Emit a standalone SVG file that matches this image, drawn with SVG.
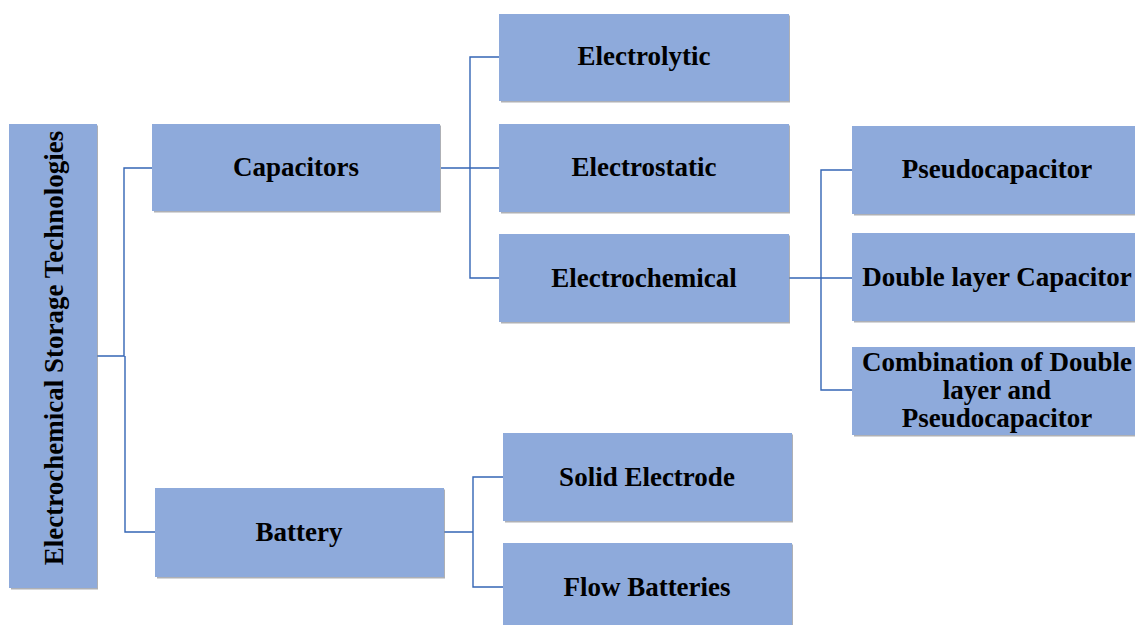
<svg xmlns="http://www.w3.org/2000/svg" width="1135" height="625" viewBox="0 0 1135 625">
<defs>
<style>
.box{fill:#8EAADB;}
.sh{fill:#8c8f96;opacity:0.7;}
.t{font-family:"Liberation Serif","Times New Roman",serif;font-weight:bold;font-size:27px;fill:#000;text-anchor:middle;}
.c{fill:none;stroke:#3465B5;stroke-width:1.4;}
</style>
</defs>
<rect width="1135" height="625" fill="#fff"/>
<g id="connectors">
<path class="c" d="M152,168 H124 V356 H97 M125,356 V532 H155"/>
<path class="c" d="M441,168 H499 M499,57 H470 V278 H499"/>
<path class="c" d="M789,278 H852 M852,170 H821 V390 H852"/>
<path class="c" d="M444,532 H473 M503,477 H473 V587 H503"/>
</g>
<g id="root">
<rect class="sh" x="11" y="125.5" width="87" height="464"/>
<rect class="box" x="9" y="124" width="88" height="464"/>
<text class="t" transform="translate(63,348) rotate(-90)" x="0" y="0">Electrochemical Storage Technologies</text>
</g>
<g id="capacitors">
<rect class="sh" x="154" y="125.5" width="287" height="87"/>
<rect class="box" x="152" y="124" width="288" height="87"/>
<text class="t" x="296" y="176">Capacitors</text>
</g>
<g id="battery">
<rect class="sh" x="157" y="489.5" width="288" height="89"/>
<rect class="box" x="155" y="488" width="289" height="89"/>
<text class="t" x="299" y="541">Battery</text>
</g>
<g id="electrolytic">
<rect class="sh" x="501" y="15.5" width="289" height="87"/>
<rect class="box" x="499" y="14" width="290" height="87"/>
<text class="t" x="644" y="65">Electrolytic</text>
</g>
<g id="electrostatic">
<rect class="sh" x="501" y="125.5" width="289" height="88"/>
<rect class="box" x="499" y="124" width="290" height="88"/>
<text class="t" x="644" y="176">Electrostatic</text>
</g>
<g id="electrochemical">
<rect class="sh" x="501" y="235.5" width="289" height="88"/>
<rect class="box" x="499" y="234" width="290" height="88"/>
<text class="t" x="644" y="287">Electrochemical</text>
</g>
<g id="solid-electrode">
<rect class="sh" x="505" y="434.5" width="288" height="88"/>
<rect class="box" x="503" y="433" width="289" height="88"/>
<text class="t" x="647" y="486">Solid Electrode</text>
</g>
<g id="flow-batteries">
<rect class="sh" x="505" y="544.5" width="288" height="88"/>
<rect class="box" x="503" y="543" width="289" height="88"/>
<text class="t" x="647" y="596">Flow Batteries</text>
</g>
<g id="pseudocapacitor">
<rect class="sh" x="854" y="127.5" width="289" height="88"/>
<rect class="box" x="852" y="126" width="290" height="88"/>
<text class="t" x="997" y="178">Pseudocapacitor</text>
</g>
<g id="double-layer">
<rect class="sh" x="854" y="234.5" width="289" height="88"/>
<rect class="box" x="852" y="233" width="290" height="88"/>
<text class="t" x="997" y="286">Double layer Capacitor</text>
</g>
<g id="combination">
<rect class="sh" x="854" y="348.5" width="289" height="88"/>
<rect class="box" x="852" y="347" width="290" height="88"/>
<text class="t" x="997" y="371">Combination of Double</text>
<text class="t" x="997" y="399">layer and</text>
<text class="t" x="997" y="427">Pseudocapacitor</text>
</g>
</svg>
